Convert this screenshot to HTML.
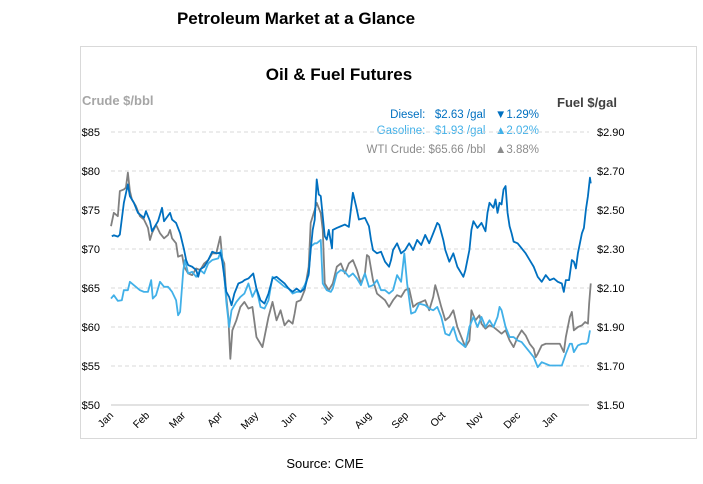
<!DOCTYPE html>
<html><head><meta charset="utf-8"><style>
body{margin:0;background:#fff;}
svg{display:block;font-family:"Liberation Sans",Arial,sans-serif;}
.pre{white-space:pre;}
</style></head><body>
<svg width="703" height="484" viewBox="0 0 703 484">
<text x="296" y="24" text-anchor="middle" font-size="17" font-weight="bold" font-family="Liberation Sans, sans-serif">Petroleum Market at a Glance</text>
<rect x="80.5" y="46.5" width="616" height="392" fill="#fff" stroke="#d9d9d9"/>
<text x="339" y="80" text-anchor="middle" font-size="17" font-weight="bold" fill="#000">Oil &amp; Fuel Futures</text>
<text x="82" y="105" font-size="13" font-weight="bold" fill="#a6a6a6">Crude $/bbl</text>
<text x="557" y="107" font-size="13" font-weight="bold" fill="#404040">Fuel $/gal</text>
<text class="pre" x="539" y="118" text-anchor="end" font-size="11.5" fill="#0070c0">Diesel:   $2.63 /gal   ▼1.29%</text>
<text class="pre" x="539" y="134" text-anchor="end" font-size="11.5" fill="#41b0e8">Gasoline:   $1.93 /gal   ▲2.02%</text>
<text class="pre" x="539" y="153" text-anchor="end" font-size="11.5" fill="#8c8c8c">WTI Crude: $65.66 /bbl   ▲3.88%</text>
<g stroke="#d9d9d9" stroke-dasharray="4,3" stroke-width="1">
<line x1="111" y1="132" x2="589" y2="132"/><line x1="111" y1="171" x2="589" y2="171"/><line x1="111" y1="210" x2="589" y2="210"/>
<line x1="111" y1="249" x2="589" y2="249"/><line x1="111" y1="288" x2="589" y2="288"/><line x1="111" y1="327" x2="589" y2="327"/><line x1="111" y1="366" x2="589" y2="366"/>
</g>
<line x1="111" y1="405" x2="589" y2="405" stroke="#d9d9d9" stroke-width="1.5"/>
<g font-size="11" fill="#000" text-anchor="end">
<text x="100" y="136">$85</text><text x="100" y="175">$80</text><text x="100" y="214">$75</text><text x="100" y="253">$70</text><text x="100" y="292">$65</text><text x="100" y="331">$60</text><text x="100" y="370">$55</text><text x="100" y="409">$50</text>
</g>
<g font-size="11" fill="#000">
<text x="597" y="136">$2.90</text><text x="597" y="175">$2.70</text><text x="597" y="214">$2.50</text><text x="597" y="253">$2.30</text><text x="597" y="292">$2.10</text><text x="597" y="331">$1.90</text><text x="597" y="370">$1.70</text><text x="597" y="409">$1.50</text>
</g>
<g font-size="10.5" fill="#000" text-anchor="end">
<text transform="translate(114,416) rotate(-45)">Jan</text>
<text transform="translate(150,416) rotate(-45)">Feb</text>
<text transform="translate(186,416) rotate(-45)">Mar</text>
<text transform="translate(223,416) rotate(-45)">Apr</text>
<text transform="translate(259,416) rotate(-45)">May</text>
<text transform="translate(297,416) rotate(-45)">Jun</text>
<text transform="translate(334,416) rotate(-45)">Jul</text>
<text transform="translate(372,416) rotate(-45)">Aug</text>
<text transform="translate(409,416) rotate(-45)">Sep</text>
<text transform="translate(446,416) rotate(-45)">Oct</text>
<text transform="translate(484,416) rotate(-45)">Nov</text>
<text transform="translate(521,416) rotate(-45)">Dec</text>
<text transform="translate(558,416) rotate(-45)">Jan</text>
</g>
<g transform="translate(79.66,229.92) scale(0.4018,0.3348)" fill="none" stroke-linejoin="round">
<polyline vector-effect="non-scaling-stroke" stroke="#808080" stroke-width="1.8" points="78,-11 85,-51 95,-41 100,-116 110,-121 115,-126 120,-171 125,-116 130,-91 140,-71 150,-41 160,-31 170,-6 175,30 180,10 190,-15 200,10 210,25 220,15 225,0 230,25 240,40 245,80 255,75 260,110 270,130 280,135 290,115 300,120 310,100 320,90 330,70 340,70 350,20 355,85 360,100 365,200 370,260 375,385 380,300 390,270 400,230 410,215 420,235 430,230 440,320 450,340 455,350 460,320 470,260 480,215 490,270 500,240 510,285 520,270 530,280 535,250 540,215 550,210 560,180 570,110 575,-21 585,-60 590,-81 600,-50 605,0 610,160 620,180 630,160 640,110 650,100 660,130 670,100 680,90 690,120 700,160 710,130 715,75 720,80 730,150 740,190 750,200 760,210 770,230 780,210 790,195 800,200 810,180 820,175 830,230 840,220 850,215 860,210 870,240 880,200 885,165 890,185 900,230 910,270 920,260 930,240 940,290 950,320 960,350 970,330 975,240 985,270 995,255 1000,280 1010,295 1020,285 1030,290 1040,300 1050,310 1060,300 1070,330 1080,350 1090,320 1100,300 1110,315 1120,340 1130,355 1135,380 1140,370 1150,345 1160,340 1180,340 1195,340 1205,365 1210,320 1220,260 1225,245 1230,300 1240,290 1250,285 1258,275 1265,280 1268,220 1272,160"/>
<polyline vector-effect="non-scaling-stroke" stroke="#41b0e8" stroke-width="1.8" points="78,205 85,195 95,212 105,210 110,180 120,180 125,155 135,165 150,180 160,185 170,185 178,150 182,205 190,195 200,155 210,170 220,170 230,185 240,210 245,255 250,245 258,120 262,90 270,130 280,125 290,140 300,120 310,130 320,100 330,90 345,85 352,60 358,110 365,215 372,290 378,240 390,215 400,200 410,190 420,160 430,200 440,175 450,230 460,235 470,210 480,140 490,150 500,160 510,170 520,175 530,190 540,185 550,185 560,165 570,135 575,50 585,40 590,40 600,30 605,160 615,180 625,185 630,175 640,130 650,120 660,125 670,140 680,130 690,145 700,165 710,130 720,170 730,165 740,150 750,180 760,180 770,190 780,180 790,135 800,155 808,70 815,160 825,250 835,245 845,220 860,225 870,235 880,240 890,230 900,260 910,310 920,315 930,290 940,330 950,340 960,350 970,290 980,260 990,290 1000,260 1010,290 1020,270 1030,290 1040,260 1045,230 1050,240 1055,265 1060,290 1070,320 1080,320 1090,330 1100,335 1110,350 1120,365 1130,380 1140,410 1150,395 1160,400 1170,405 1180,405 1190,405 1200,405 1210,370 1220,340 1225,340 1230,365 1240,345 1250,340 1260,340 1265,335 1270,300"/>
<polyline vector-effect="non-scaling-stroke" stroke="#0070c0" stroke-width="1.8" points="80,19 85,16 95,20 100,14 110,-81 120,-136 125,-101 135,-81 145,-51 160,-36 165,-56 175,-26 180,4 195,-26 205,-66 210,-26 225,-51 230,-31 240,-21 250,10 260,60 265,90 270,105 280,110 290,120 295,140 300,118 310,110 320,90 330,65 340,70 350,68 355,95 365,185 372,200 378,225 385,190 395,160 405,155 410,150 420,145 432,130 440,175 450,210 460,220 470,190 480,145 490,140 500,150 510,160 520,175 530,185 540,175 550,185 560,175 570,130 575,60 580,0 585,-30 590,-151 595,-106 600,-101 605,-41 610,19 615,29 620,0 628,55 630,0 640,-6 650,-11 660,-16 670,-9 680,-111 688,-71 695,-31 710,-36 720,-11 725,29 730,60 740,70 750,65 760,95 770,110 775,90 780,60 790,40 800,70 810,60 820,40 830,60 840,30 850,45 860,15 870,40 880,10 890,-21 895,-15 905,30 910,60 920,95 930,70 940,110 950,130 955,140 960,120 970,60 975,0 980,-26 990,-6 1000,-21 1010,4 1015,-51 1020,-81 1030,-66 1035,-91 1040,-51 1045,-81 1050,-76 1055,-121 1060,-131 1065,-51 1070,-11 1075,10 1080,35 1090,40 1100,55 1110,70 1120,90 1130,110 1140,140 1150,155 1160,135 1170,150 1180,145 1190,155 1200,160 1205,185 1210,150 1218,150 1225,90 1230,95 1235,115 1240,70 1245,40 1250,10 1255,-6 1260,-61 1265,-101 1270,-156 1272,-139"/>
</g>
<text x="325" y="468" text-anchor="middle" font-size="13" fill="#000">Source: CME</text>
</svg>
</body></html>
